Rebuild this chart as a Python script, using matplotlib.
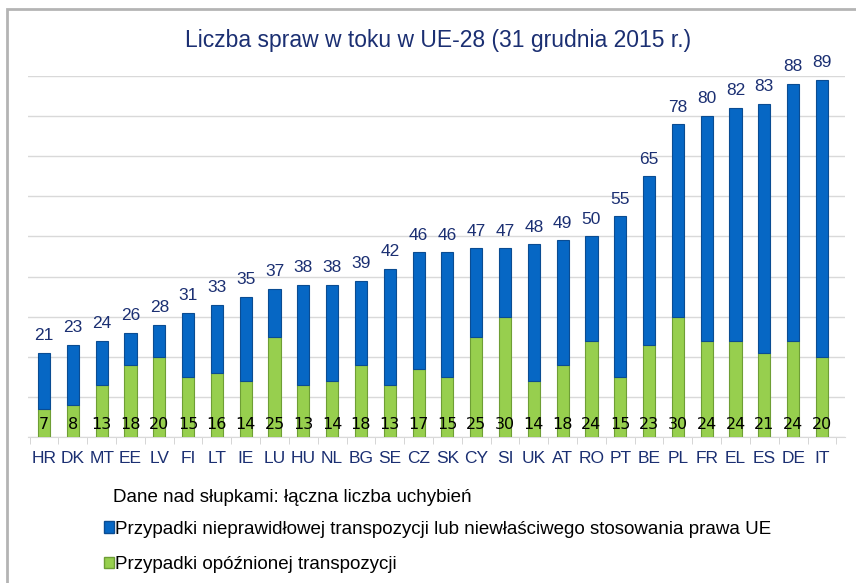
import numpy as np
import matplotlib
matplotlib.use("Agg")
import matplotlib.pyplot as plt
from matplotlib.patches import Patch, Rectangle

countries = ["HR", "DK", "MT", "EE", "LV", "FI", "LT", "IE", "LU", "HU", "NL", "BG", "SE", "CZ",
             "SK", "CY", "SI", "UK", "AT", "RO", "PT", "BE", "PL", "FR", "EL", "ES", "DE", "IT"]
total = np.array([21, 23, 24, 26, 28, 31, 33, 35, 37, 38, 38, 39, 42, 46,
                  46, 47, 47, 48, 49, 50, 55, 65, 78, 80, 82, 83, 88, 89])
late = np.array([7, 8, 13, 18, 20, 15, 16, 14, 25, 13, 14, 18, 13, 17,
                 15, 25, 30, 14, 18, 24, 15, 23, 30, 24, 24, 21, 24, 20])
wrong = total - late

title = "Liczba spraw w toku w UE-28 (31 grudnia 2015 r.)"
note = "Dane nad słupkami: łączna liczba uchybień"
lab_wrong = "Przypadki nieprawidłowej transpozycji lub niewłaściwego stosowania prawa UE"
lab_late = "Przypadki opóźnionej transpozycji"

BLUE = "#0667C4"
GREEN = "#97CF4E"
NAVY = "#1B2F72"
plt.rcParams["font.family"] = ["Liberation Sans", "DejaVu Sans"]

fig = plt.figure(figsize=(8.56, 5.83), dpi=100)
ax = fig.add_axes([28/856, 1-437/583, (845-28)/856, (437-76)/583])

x = np.arange(len(countries))
w = 0.42
ax.bar(x, late, w, color=GREEN, edgecolor="#6E9E35", linewidth=0.8, zorder=3)
ax.bar(x, wrong, w, bottom=late, color=BLUE, edgecolor="#0A4C92", linewidth=0.8, zorder=3)

for i in range(len(x)):
    ax.text(x[i], total[i] + 2.4, str(total[i]), ha="center", va="bottom",
            fontsize=12.5, color=NAVY, zorder=4)
    ax.text(x[i], 3, str(late[i]), ha="center", va="center", fontsize=11.5,
            color="black", family="DejaVu Sans", zorder=4)

ax.set_xlim(-0.556, 27.8)
ax.set_ylim(0, 90)
ax.set_yticks(np.arange(0, 91, 10))
ax.yaxis.grid(True, color="#D9D9D9", linewidth=1)
ax.set_axisbelow(True)
ax.tick_params(axis="y", left=False, labelleft=False)
for s in ["top", "right", "left"]:
    ax.spines[s].set_visible(False)
ax.spines["bottom"].set_color("#D9D9D9")
ax.set_xticks(np.arange(-0.5, 27.6, 1), minor=True)
ax.tick_params(axis="x", which="minor", length=5, color="#CFCFCF")
ax.tick_params(axis="x", which="major", length=0, pad=10)
ax.set_xticks(x)
ax.set_xticklabels(countries, fontsize=12.5, color=NAVY)

fig.text(438/856, 1-40/583, title, ha="center", va="center", fontsize=16.5, color=NAVY)
fig.text(113/856, 1-497/583, note, ha="left", va="center", fontsize=13.5, color="black")

handles = [Patch(facecolor=BLUE, edgecolor="#0A4C92"), Patch(facecolor=GREEN, edgecolor="#6E9E35")]
fig.legend(handles, [lab_wrong, lab_late], loc="upper left", bbox_to_anchor=(96/856, 1-513/583),
           frameon=False, fontsize=13.5, handlelength=0.55, handleheight=0.55, handletextpad=0.05,
           labelspacing=1.0, borderaxespad=0)

fig.patches.append(Rectangle((7/856, -0.1), 1.2, 1 - 8.5/583 + 0.1, transform=fig.transFigure,
                             fill=False, edgecolor="#B4B4B4", linewidth=2))

fig.savefig("out.png", dpi=100)
